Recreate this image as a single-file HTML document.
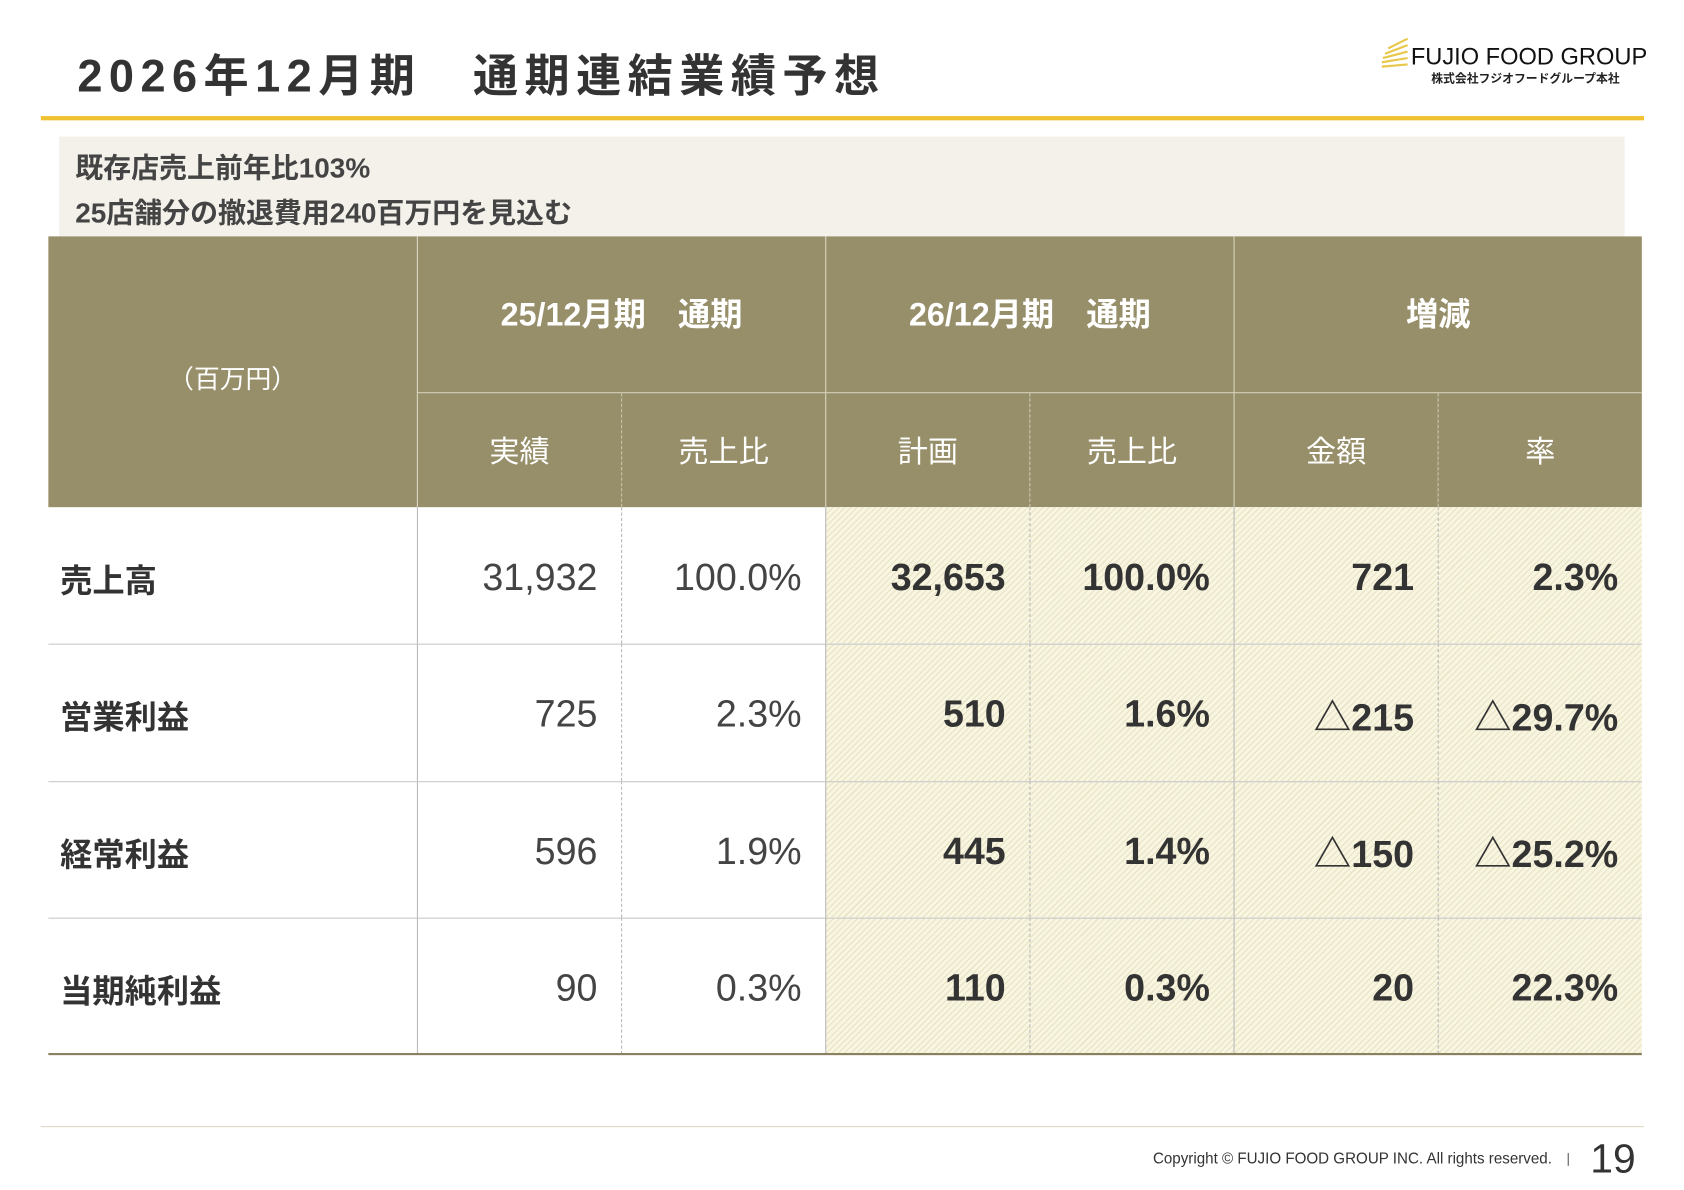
<!DOCTYPE html>
<html><head><meta charset="utf-8"><style>
html,body{margin:0;padding:0;background:#fff;overflow:hidden}
body{width:1684px;height:1190px}
#wrap{position:absolute;left:0;top:0;width:1566px;height:1107px;transform:scale(1.0745);transform-origin:0 0;font-family:"Liberation Sans","Noto Sans CJK JP",sans-serif;color:#333}
.abs{position:absolute}
#title{left:72px;top:37px;font-size:42px;font-weight:bold;color:#333;white-space:pre;letter-spacing:6px}
#logo{left:1313px;top:40px;font-size:22px;color:#111;letter-spacing:0}
#logo-sub{left:1332px;top:65px;font-size:11px;font-weight:bold;color:#222}
#rule{left:38px;top:108px;width:1492px;height:4px;background:#f0c232}
#note{left:55px;top:127px;width:1457px;height:93px;background:#f3f1ea}
.note-line{position:absolute;left:15px;font-size:26px;font-weight:bold;color:#444}
#table{left:45px;top:220px;width:1483px;height:762px}
.hdr{position:absolute;background:#978f6a;color:#fff;display:flex;align-items:center;justify-content:center}
.cell{position:absolute;display:flex;align-items:center;justify-content:flex-end;box-sizing:border-box;padding-right:22px;padding-top:4px;font-size:35px}
.hatch{background-color:#f8f5e1;background-image:repeating-linear-gradient(135deg,rgba(200,190,140,0.35) 0 1px,transparent 1px 4px)}
.lab{justify-content:flex-start;padding-left:11px;font-size:30px;font-weight:bold;color:#333}
</style></head><body>
<div id="wrap">
<div id="title" class="abs">2026年12月期　通期連結業績予想</div>
<svg class="abs" style="left:1282px;top:32px" width="32" height="34"><g stroke="#e8c84a" stroke-width="2"><line x1="4" y1="30" x2="28" y2="28"/><line x1="4" y1="26" x2="28" y2="22"/><line x1="5" y1="22" x2="28" y2="16"/><line x1="7" y1="18" x2="28" y2="10"/><line x1="10" y1="13" x2="28" y2="4"/></g></svg>
<div id="logo" class="abs">FUJIO FOOD GROUP</div>
<div id="logo-sub" class="abs">株式会社フジオフードグループ本社</div>
<div id="rule" class="abs"></div>
<div id="note" class="abs">
<div class="note-line" style="top:9px">既存店売上前年比103%</div>
<div class="note-line" style="top:51px">25店舗分の撤退費用240百万円を見込む</div>
</div>
<div id="table" class="abs"></div>
<div class="abs" style="left:38px;top:1048px;width:1492px;height:1px;background:#ddd8c8"></div>
<div class="abs" style="left:1073px;top:1070px;font-size:15px;color:#333;transform:scaleX(0.94);transform-origin:0 0;white-space:nowrap">Copyright © FUJIO FOOD GROUP INC. All rights reserved.</div>
<div class="abs" style="left:1459px;top:1073px;width:1px;height:12px;background:#555"></div>
<div class="abs" style="left:1480px;top:1058px;font-size:38px;color:#333">19</div>
</div>
<script>
const rowLabels=["売上高","営業利益","経常利益","当期純利益"];
const actual25=["31,932","725","596","90"];
const ratio25=["100.0%","2.3%","1.9%","0.3%"];
const plan26=["32,653","510","445","110"];
const ratio26=["100.0%","1.6%","1.4%","0.3%"];
const diffAmt=["721","△215","△150","20"];
const diffRate=["2.3%","△29.7%","△25.2%","22.3%"];
const groupHeaders=["25/12月期　通期","26/12月期　通期","増減"];
const subHeaders=["実績","売上比","計画","売上比","金額","率"];

const t=document.getElementById('table');
const colX=[0,343,533,723,913,1103,1293,1483];
const H1=146,H2=252,RH=127.25;
function add(cls,x,y,w,h,txt,st){const d=document.createElement('div');d.className=cls;d.style.left=x+'px';d.style.top=y+'px';d.style.width=w+'px';d.style.height=h+'px';if(txt!=null)d.textContent=txt;if(st)d.style.cssText+=st;t.appendChild(d);return d;}
let e=add('hdr',0,0,343,H2,'（百万円）','font-size:24px;padding-top:8px;box-sizing:border-box;');


groupHeaders.forEach((g,i)=>{const x=colX[1+i*2];const el=add('hdr',x,0,380,H1,g,'font-size:30px;font-weight:bold;padding-bottom:6px;box-sizing:border-box;border-left:1px solid #d8d4c0;border-bottom:1px solid #d8d4c0;');

});
subHeaders.forEach((s,i)=>{const x=colX[1+i];const bl=i%2==0?'1px solid #d8d4c0':'1px dashed #c8c2a8';const el=add('hdr',x,H1,190,H2-H1,s,'font-size:28px;border-left:'+bl+';box-sizing:border-box;');

});
const cols=[actual25,ratio25,plan26,ratio26,diffAmt,diffRate];
rowLabels.forEach((lab,r)=>{const y=H2+r*RH;
 const l=add('cell lab',0,y,343,RH,lab,'border-top:'+(r?'1px solid #c8c8c8':'none')+';');
 
 
 cols.forEach((c,i)=>{const x=colX[1+i];const bold=i>=2;const bl=i%2==0?'1px solid #b8b8b8':'1px dashed #b8b8b8';
  const el=add('cell'+(bold?' hatch':''),x,y,190,RH,c[r],'border-left:'+bl+';border-top:'+(r?'1px solid #c8c8c8':'none')+';'+(bold?'font-weight:bold;color:#333;':'color:#444;'));
  
  });
});
const b=add('',0,H2+4*RH-1,1483,2,null,'position:absolute;background:#8a8060;');


</script>
</body></html>
